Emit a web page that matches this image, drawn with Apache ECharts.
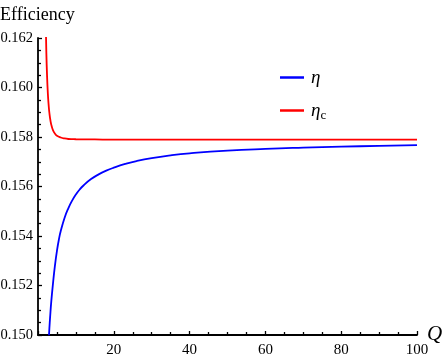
<!DOCTYPE html>
<html>
<head>
<meta charset="utf-8">
<style>
  html, body { margin: 0; padding: 0; background: #fff; }
  #chart { width: 443px; height: 360px; }
</style>
<script src="https://cdn.jsdelivr.net/npm/echarts@6/dist/echarts.min.js"></script>
</head>
<body>
<div id="chart"></div>
<script>
// eta (blue)
const qEta = [2.9, 3.0, 3.2, 3.5, 4.0, 4.5, 5.0, 5.5, 6, 7, 8, 9, 10, 11, 12, 14, 16, 18, 20,
  23, 26, 30, 35, 40, 50, 60, 70, 80, 90, 100]
const eta = [0.14999, 0.15026, 0.15073, 0.15135, 0.15215, 0.15284, 0.15340, 0.15385, 0.15420,
  0.15473, 0.15512, 0.15543, 0.15568, 0.15588, 0.15604, 0.15630, 0.15649, 0.15664, 0.15676,
  0.15691, 0.15703, 0.15715, 0.15726, 0.15734, 0.15745, 0.15752, 0.15757, 0.15761, 0.15764, 0.15767]

// eta_c (red)
const qEtaC = [2.0, 2.2, 2.4, 2.6, 2.8, 3.0, 3.3, 3.6, 4.0, 4.5, 5, 6, 7, 8, 10, 15, 20, 40, 60, 80, 100]
const etaC = [0.16296, 0.16142, 0.16043, 0.15976, 0.15931, 0.15898, 0.15865, 0.15844, 0.15826, 0.15813,
  0.15805, 0.15798, 0.15794, 0.15792, 0.15791, 0.15790, 0.15789, 0.15789, 0.15789, 0.15789, 0.15789]

const xTicks = [0, 20, 40, 60, 80, 100]
const yTicks = [0.150, 0.152, 0.154, 0.156, 0.158, 0.160, 0.162]

const serif = 'Liberation Serif, Times New Roman, serif'

const chart = echarts.init(document.getElementById('chart'))

const option = {
    animation: false,
    title: {
        text: 'Efficiency',
        left: 0,
        top: 6,
        padding: 0,
        textStyle: { fontFamily: serif, fontSize: 18, fontWeight: 'normal', color: '#000' }
    },
    legend: {
        orient: 'vertical',
        left: 280,
        top: 68,
        padding: 0,
        icon: 'rect',
        itemWidth: 24,
        itemHeight: 2.5,
        itemGap: 14,
        data: ['eta', 'etac'],
        formatter: name => name === 'eta' ? '{i|η}' : '{i|η}{s|c}',
        textStyle: {
            padding: [0, 0, 0, 2],
            rich: {
                i: { fontFamily: serif, fontStyle: 'italic', fontSize: 19, color: '#000', height: 22 },
                s: { fontFamily: serif, fontSize: 13, color: '#000', verticalAlign: 'bottom', padding: [10, 0, 0, 0] }
            }
        }
    },
    // axis name Q, placed by hand next to the end of the x axis
    graphic: [
        {
            type: 'text',
            left: 427,
            top: 324,
            style: {
                text: 'Q',
                font: 'italic 21px Liberation Serif, serif',
                fill: '#000'
            }
        }
    ],
    grid: {
        left: 38,
        right: 26,
        top: 38,
        bottom: 25,
        outerBoundsMode: 'none'
    },
    xAxis: {
        type: 'value',
        min: xTicks[0],
        max: xTicks[xTicks.length - 1],
        interval: 20,
        axisLine: { lineStyle: { color: '#000', width: 1.8 } },
        axisTick: { inside: true, length: 4, lineStyle: { color: '#000', width: 1.3 } },
        minorTick: { show: true, splitNumber: 4, length: 3, lineStyle: { color: '#000', width: 1.3 } },
        axisLabel: {
            showMinLabel: false,
            margin: 8,
            fontFamily: serif,
            fontSize: 15,
            color: '#000'
        },
        splitLine: { show: false }
    },
    yAxis: {
        type: 'value',
        min: yTicks[0],
        max: yTicks[yTicks.length - 1],
        interval: 0.002,
        axisLine: { show: true, lineStyle: { color: '#000', width: 1.8 } },
        axisTick: { show: true, inside: true, length: 4, lineStyle: { color: '#000', width: 1.3 } },
        minorTick: { show: true, splitNumber: 4, length: 3, lineStyle: { color: '#000', width: 1.3 } },
        axisLabel: {
            margin: 5,
            fontFamily: serif,
            fontSize: 14.5,
            color: '#000',
            formatter: v => v.toFixed(3)
        },
        splitLine: { show: false }
    },
    series: [
        {
            name: 'eta',
            type: 'line',
            data: qEta.map((q, i) => [q, eta[i]]),
            symbol: 'none',
            smooth: 0.5,
            lineStyle: { color: '#0000ff', width: 1.8 },
            itemStyle: { color: '#0000ff' }
        },
        {
            name: 'etac',
            type: 'line',
            data: qEtaC.map((q, i) => [q, etaC[i]]),
            symbol: 'none',
            smooth: 0.5,
            lineStyle: { color: '#ff0000', width: 1.8 },
            itemStyle: { color: '#ff0000' }
        }
    ]
}

chart.setOption(option)

window.addEventListener('resize', () => {
    chart.resize()
})
</script>
</body>
</html>
